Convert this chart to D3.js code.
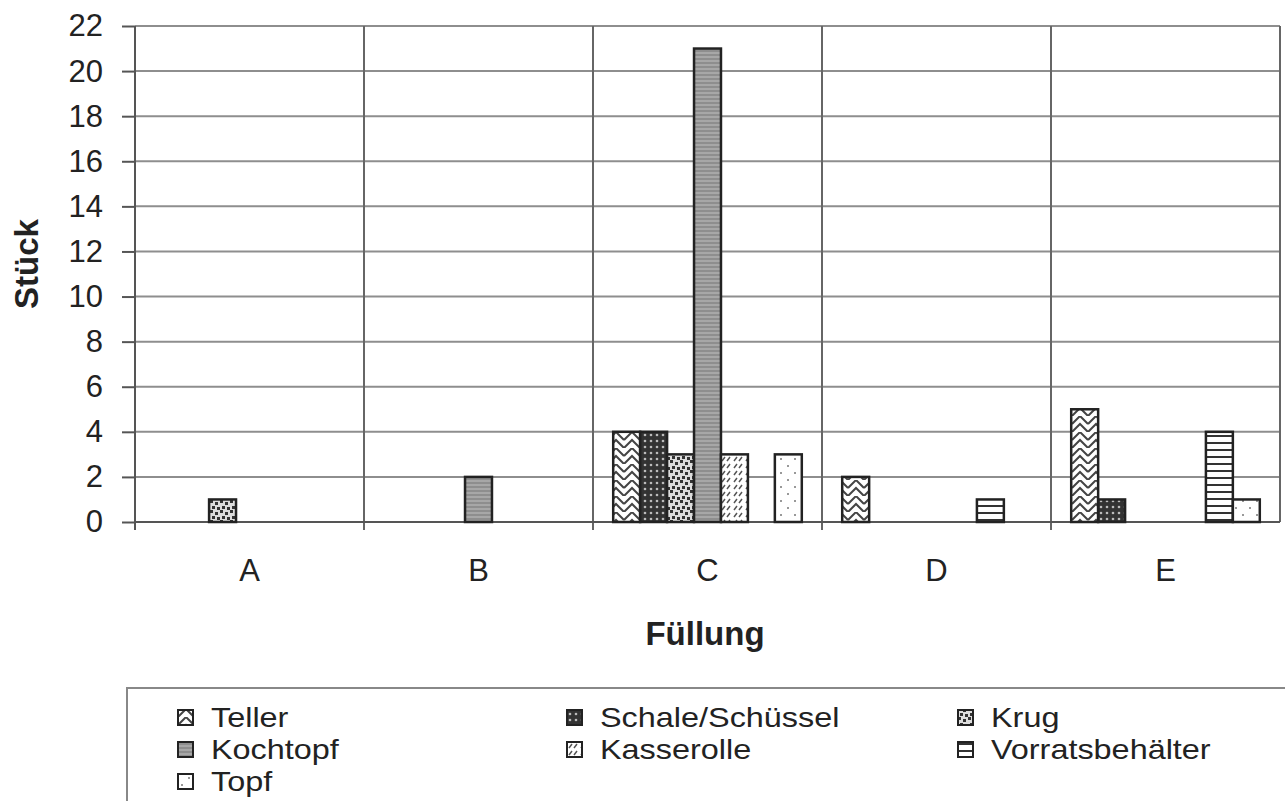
<!DOCTYPE html>
<html>
<head>
<meta charset="utf-8">
<script src="https://cdn.jsdelivr.net/npm/d3@7"></script>
<style>
  body { margin: 0; background: #fff; }
  svg { display: block; font-family: "Liberation Sans", Arial, sans-serif; }
</style>
</head>
<body>
<svg id="chart" width="1285" height="801"></svg>
<script>
// Füllung categories and the vessel types counted in each
const categories = ["A", "B", "C", "D", "E"];
const series = ["Teller", "Schale/Schüssel", "Krug", "Kochtopf", "Kasserolle", "Vorratsbehälter", "Topf"];
// one row per series, values per category A..E
const teller = [0, 0, 4, 2, 5];
const schale = [0, 0, 4, 0, 1];
const krug = [1, 0, 3, 0, 0];
const kochtopf = [0, 2, 21, 0, 0];
const kasserolle = [0, 0, 3, 0, 0];
const vorrats = [0, 0, 0, 1, 4];
const topf = [0, 0, 3, 0, 1];
const yTicks = [0, 2, 4, 6, 8, 10, 12, 14, 16, 18, 20, 22];

const values = [teller, schale, krug, kochtopf, kasserolle, vorrats, topf];
const patternIds = ["p-teller", "p-schale", "p-krug", "p-koch", "p-kass", "p-vorr", "p-topf"];

const svg = d3.select("#chart");
const plot = { left: 135, right: 1280, top: 26, bottom: 522 };

// fill patterns (black & white print look)
const defs = svg.append("defs");
function pattern(id, w, h, bg) {
  const p = defs.append("pattern").attr("id", id)
    .attr("patternUnits", "userSpaceOnUse").attr("width", w).attr("height", h);
  p.append("rect").attr("width", w).attr("height", h).attr("fill", bg);
  return p;
}
// Teller: zigzag diagonals
let p = pattern("p-teller", 16, 16, "#fff");
p.append("path").attr("d", "M0,16 L8,8 L16,16 M0,8 L8,0 L16,8").attr("stroke", "#444").attr("stroke-width", 2).attr("fill", "none");
// Schale: dark with light dots
p = pattern("p-schale", 6, 6, "#333");
p.append("circle").attr("cx", 3).attr("cy", 3).attr("r", 1.3).attr("fill", "#bbb");
// Krug: confetti
p = pattern("p-krug", 10, 10, "#ddd");
p.append("path").attr("d", "M0,0h3v3h-3z M5,2h3v3h-3z M2,6h3v3h-3z M7,7h3v3h-3z").attr("fill", "#333");
// Kochtopf: grey fine horizontal lines
p = pattern("p-koch", 6, 4, "#8e8e8e");
p.append("line").attr("x1", 0).attr("x2", 6).attr("y1", 1).attr("y2", 1).attr("stroke", "#b0b0b0").attr("stroke-width", 1.5);
// Kasserolle: small dashed diagonals
p = pattern("p-kass", 12, 14, "#fff");
p.append("path").attr("d", "M2,6 L5,2 M7,6 L10,2 M2,13 L5,9 M7,13 L10,9").attr("stroke", "#555").attr("stroke-width", 1.5);
// Vorratsbehälter: wide horizontal lines
p = pattern("p-vorr", 8, 7, "#fff");
p.append("line").attr("x1", 0).attr("x2", 8).attr("y1", 2).attr("y2", 2).attr("stroke", "#333").attr("stroke-width", 2);
// Topf: sparse dots
p = pattern("p-topf", 14, 14, "#fff");
p.append("circle").attr("cx", 4).attr("cy", 4).attr("r", 1).attr("fill", "#777");
p.append("circle").attr("cx", 11).attr("cy", 11).attr("r", 1).attr("fill", "#777");

const x = d3.scaleBand().domain(categories).range([plot.left, plot.right]).padding(0);
const xInner = d3.scaleBand().domain(series).range([0, x.bandwidth()])
  .paddingInner(0).paddingOuter(0.75);
const y = d3.scaleLinear().domain([0, 22]).range([plot.bottom, plot.top]);

// horizontal gridlines
svg.append("g").selectAll("line").data(yTicks.filter(d => d > 0)).join("line")
  .attr("x1", plot.left).attr("x2", plot.right)
  .attr("y1", d => y(d)).attr("y2", d => y(d))
  .attr("stroke", "#8e8e8e").attr("stroke-width", 2);

// vertical category lines
svg.append("g").selectAll("line").data(categories.slice(1).concat(["end"])).join("line")
  .attr("x1", d => d === "end" ? plot.right : x(d))
  .attr("x2", d => d === "end" ? plot.right : x(d))
  .attr("y1", plot.top).attr("y2", d => d === "end" ? plot.bottom : plot.bottom + 8)
  .attr("stroke", "#666").attr("stroke-width", 2);

// y axis
const yAxis = svg.append("g").attr("transform", `translate(${plot.left},0)`)
  .call(d3.axisLeft(y).tickValues(yTicks).tickSize(13).tickPadding(19));
yAxis.select(".domain").attr("stroke", "#555").attr("stroke-width", 2).attr("d", `M0,${plot.top}V${plot.bottom + 8}`);
yAxis.selectAll(".tick line").attr("stroke", "#555").attr("stroke-width", 2);
yAxis.selectAll("text").attr("font-size", 31).attr("fill", "#222");

// x axis
const xAxis = svg.append("g").attr("transform", `translate(0,${plot.bottom})`)
  .call(d3.axisBottom(x).tickSize(0).tickPadding(37));
xAxis.select(".domain").attr("stroke", "#555").attr("stroke-width", 2).attr("d", `M${plot.left},0H${plot.right}`);
xAxis.selectAll("text").attr("font-size", 31).attr("fill", "#222");

// bars
const bars = [];
series.forEach((s, si) => categories.forEach((c, ci) => {
  if (values[si][ci] > 0) bars.push({ s, si, c, v: values[si][ci] });
}));
svg.append("g").selectAll("rect").data(bars).join("rect")
  .attr("x", d => x(d.c) + xInner(d.s))
  .attr("width", xInner.bandwidth())
  .attr("y", d => y(d.v))
  .attr("height", d => y(0) - y(d.v))
  .attr("fill", d => `url(#${patternIds[d.si]})`)
  .attr("stroke", "#222").attr("stroke-width", 2.5);

// axis titles
svg.append("text").attr("transform", "translate(38,264) rotate(-90)")
  .attr("text-anchor", "middle").attr("font-size", 33).attr("font-weight", "bold")
  .attr("fill", "#222").text("Stück");
svg.append("text").attr("x", 705).attr("y", 645)
  .attr("text-anchor", "middle").attr("font-size", 33).attr("font-weight", "bold")
  .attr("fill", "#222").text("Füllung");

// legend
const legend = svg.append("g");
legend.append("rect").attr("x", 127).attr("y", 688).attr("width", 1200).attr("height", 150)
  .attr("fill", "#fff").attr("stroke", "#888").attr("stroke-width", 2);
const colX = [178, 567, 958];
const rowY = [717, 749, 781];
const item = legend.selectAll("g.item").data(series).join("g").attr("class", "item")
  .attr("transform", (d, i) => `translate(${colX[i % 3]},${rowY[Math.floor(i / 3)]})`);
item.append("rect").attr("x", 0).attr("y", -7).attr("width", 15).attr("height", 15)
  .attr("fill", (d, i) => `url(#${patternIds[i]})`).attr("stroke", "#222").attr("stroke-width", 2);
// legend text is narrow-tall in the reference: smaller size, stretched sideways
item.append("text").attr("transform", "translate(33,0) scale(1.2,1)").attr("dy", "0.36em")
  .attr("font-size", 27).attr("fill", "#222").text(d => d);
</script>
</body>
</html>
